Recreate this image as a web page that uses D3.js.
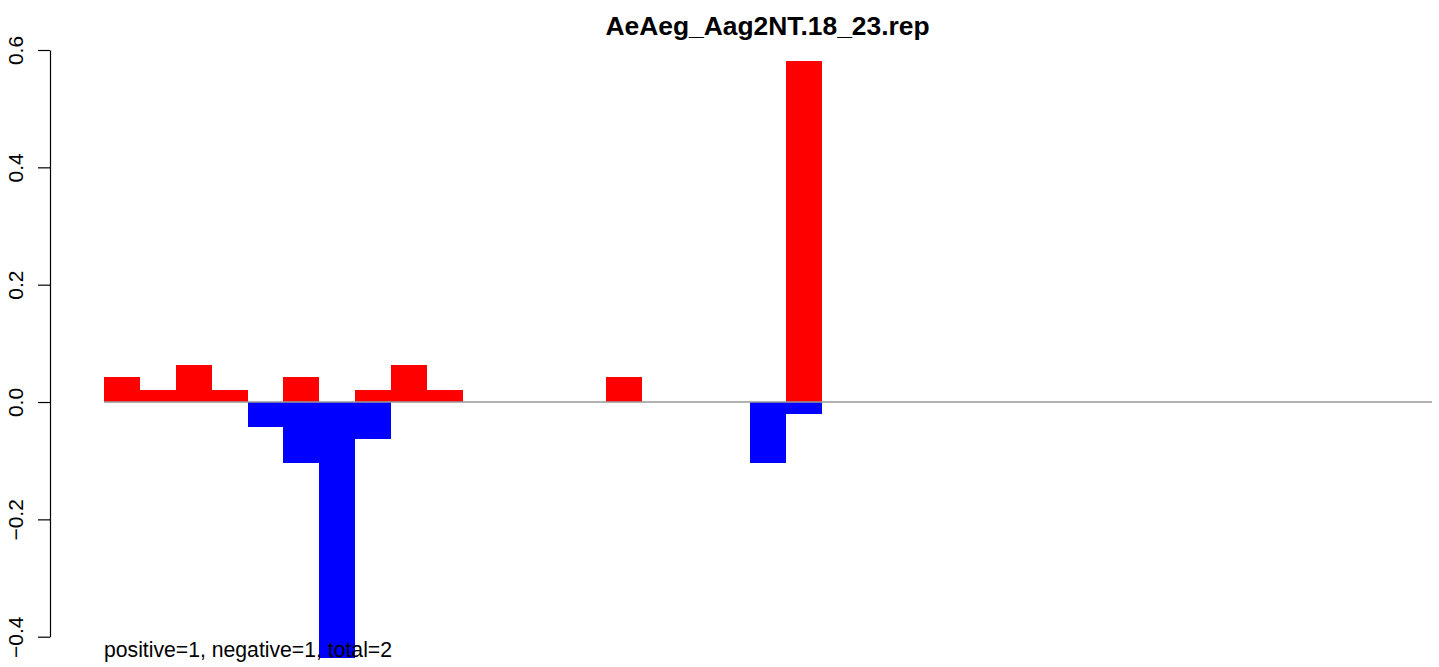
<!DOCTYPE html>
<html>
<head>
<meta charset="utf-8">
<script src="https://cdn.jsdelivr.net/npm/d3@7"></script>
<style>
  html, body { margin: 0; padding: 0; background: #fff; }
  svg { display: block; }
  text { font-family: "Liberation Sans", Arial, Helvetica, sans-serif; }
</style>
</head>
<body>
<script>
// ---- data ----
const title = "AeAeg_Aag2NT.18_23.rep";
const footer = "positive=1, negative=1, total=2";
const categories = d3.range(1, 38).map(String); // 37 positions
const positiveValues = [0.042, 0.021, 0.063, 0.021, 0, 0.042, 0, 0.021, 0.063, 0.021,
                        0, 0, 0, 0, 0.042, 0, 0, 0, 0, 0.581,
                        0, 0, 0, 0, 0, 0, 0, 0, 0, 0, 0, 0, 0, 0, 0, 0, 0];
const negativeValues = [0, 0, 0, 0, -0.042, -0.104, -0.436, -0.063, 0, 0,
                        0, 0, 0, 0, 0, 0, 0, 0, -0.104, -0.021,
                        0, 0, 0, 0, 0, 0, 0, 0, 0, 0, 0, 0, 0, 0, 0, 0, 0];
const yTicks = [-0.4, -0.2, 0.0, 0.2, 0.4, 0.6];

// ---- layout ----
const W = 1439, H = 667;
const svg = d3.select("body").append("svg").attr("width", W).attr("height", H);

const x = d3.scaleBand().domain(categories).range([104, 1432]).padding(0);
const y = d3.scaleLinear().domain([-0.4, 0.6]).range([636.7, 50]);

// positive bars
svg.append("g").selectAll("rect").data(positiveValues.map((v, i) => ({v, c: categories[i]})).filter(d => d.v > 0))
  .join("rect")
  .attr("x", d => x(d.c))
  .attr("width", x.bandwidth())
  .attr("y", d => y(d.v))
  .attr("height", d => y(0) - y(d.v))
  .attr("fill", "#ff0000")
  .attr("shape-rendering", "crispEdges");

// negative bars
svg.append("g").selectAll("rect").data(negativeValues.map((v, i) => ({v, c: categories[i]})).filter(d => d.v < 0))
  .join("rect")
  .attr("x", d => x(d.c))
  .attr("width", x.bandwidth())
  .attr("y", y(0))
  .attr("height", d => y(d.v) - y(0))
  .attr("fill", "#0000ff")
  .attr("shape-rendering", "crispEdges");

// zero line
svg.append("line")
  .attr("x1", x.range()[0]).attr("x2", x.range()[1])
  .attr("y1", y(0)).attr("y2", y(0))
  .attr("stroke", "#999").attr("stroke-width", 1.3);

// y axis
const axisG = svg.append("g").attr("transform", "translate(50,0)")
  .call(d3.axisLeft(y).tickValues(yTicks).tickSize(12).tickSizeOuter(0).tickFormat(d3.format(".1f")));
axisG.select(".domain").attr("stroke", "#000").attr("stroke-width", 1.2);
axisG.selectAll(".tick line").attr("stroke", "#000").attr("stroke-width", 1.2);
axisG.selectAll(".tick text")
  .attr("font-size", 21)
  .attr("fill", "#000")
  .attr("text-anchor", "middle")
  .attr("x", null).attr("dy", null)
  .attr("transform", "translate(-27.5,0) rotate(-90)")
  .text(d => d3.format(".1f")(d).replace("-", "\u2212"));

// title
svg.append("text")
  .attr("x", 767.5).attr("y", 35)
  .attr("text-anchor", "middle")
  .attr("font-weight", "bold")
  .attr("font-size", 26.4)
  .attr("fill", "#000")
  .text(title);

// footer text
svg.append("text")
  .attr("x", 104).attr("y", 657)
  .attr("font-size", 21.2)
  .attr("fill", "#000")
  .text(footer);
</script>
</body>
</html>
